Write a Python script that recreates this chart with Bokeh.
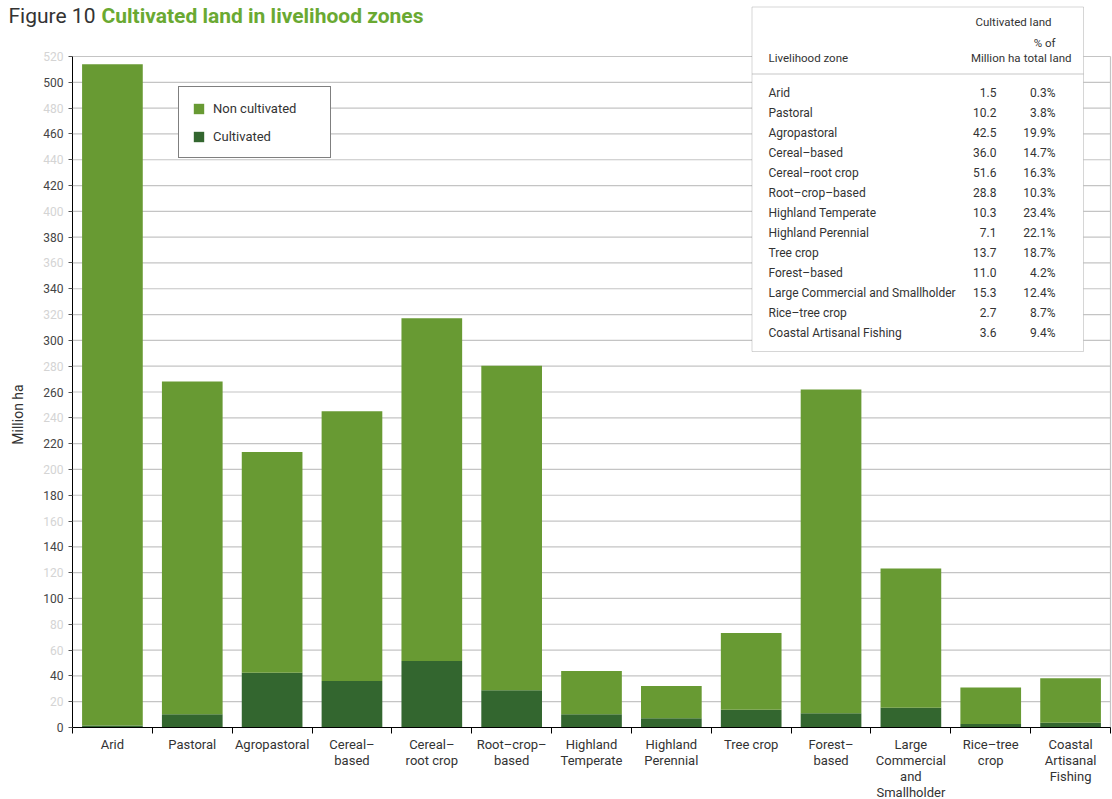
from bokeh.plotting import figure
from bokeh.models import (Range1d, FixedTicker, Label, BoxAnnotation, Legend,
                          LegendItem, ColumnDataSource)
from bokeh.embed import file_html
from bokeh.resources import INLINE

# ---------------- data ----------------
zones = ["Arid", "Pastoral", "Agropastoral", "Cereal–based", "Cereal–root crop",
         "Root–crop–based", "Highland Temperate", "Highland Perennial", "Tree crop",
         "Forest–based", "Large Commercial and Smallholder", "Rice–tree crop",
         "Coastal Artisanal Fishing"]
axis_labels = ["Arid", "Pastoral", "Agropastoral", "Cereal–\nbased", "Cereal–\nroot crop",
               "Root–crop–\nbased", "Highland\nTemperate", "Highland\nPerennial",
               "Tree crop", "Forest–\nbased", "Large\nCommercial\nand\nSmallholder",
               "Rice–tree\ncrop", "Coastal\nArtisanal\nFishing"]
cultivated = [1.5, 10.2, 42.5, 36.0, 51.6, 28.8, 10.3, 7.1, 13.7, 11.0, 15.3, 2.7, 3.6]
non_cultivated = [512.5, 258.0, 171.0, 209.0, 265.5, 251.5, 33.5, 25.0, 59.5, 251.0,
                  108.0, 28.3, 34.5]
cultivated_txt = ["1.5", "10.2", "42.5", "36.0", "51.6", "28.8", "10.3", "7.1", "13.7",
                  "11.0", "15.3", "2.7", "3.6"]
pct_total = ["0.3%", "3.8%", "19.9%", "14.7%", "16.3%", "10.3%", "23.4%", "22.1%",
             "18.7%", "4.2%", "12.4%", "8.7%", "9.4%"]
y_ticks = list(range(0, 521, 20))
light_ticks = [20, 60, 80, 120, 160, 200, 240, 280, 320, 360, 400, 440, 480, 520]

# ---------------- layout constants ----------------
W, H = 1112, 799
AX_L, AX_R, AX_B = 72, 1110, 727          # axis positions in px
N = len(zones)
XS = (AX_R - AX_L) / N                     # px per category
YS = 671.0 / 520.0                         # px per million ha

def dx(px):
    return (px - AX_L) / XS

def dy(py):
    return (AX_B - py) / YS

FONT = "Roboto"
GREEN = "#689a33"
DARK = "#33662f"
TXT = "#333333"

p = figure(width=W, height=H, output_backend="svg", toolbar_location=None,
           x_range=Range1d(dx(0), dx(W)), y_range=Range1d(dy(H), dy(0)),
           min_border=0)
p.outline_line_color = None
p.background_fill_color = "white"
p.border_fill_color = "white"
p.xgrid.visible = False
p.ygrid.visible = False

yt = FixedTicker(ticks=y_ticks, minor_ticks=[])

# horizontal grid lines, limited to the chart area
p.segment(x0=[0] * len(y_ticks), y0=y_ticks, x1=[N] * len(y_ticks), y1=y_ticks,
          line_color="#c4c4c4", line_width=1.2)
# right border line of the chart area
p.segment(x0=[N], y0=[0], x1=[N], y1=[y_ticks[-1]], line_color="#c4c4c4", line_width=1.2)

centers = [i + 0.5 for i in range(N)]
src = ColumnDataSource(dict(x=centers, cultivated=cultivated, non_cultivated=non_cultivated))
rs = p.vbar_stack(["cultivated", "non_cultivated"], x="x", width=0.76, source=src,
                  color=[DARK, GREEN], line_color=None)

# ---------------- axes ----------------
xt = FixedTicker(ticks=centers, minor_ticks=list(range(N + 1)))
p.xaxis.fixed_location = 0
p.xaxis.ticker = xt
p.xaxis.bounds = (0, N)
p.xaxis.major_label_overrides = {c: lab for c, lab in zip(centers, axis_labels)}
p.xaxis.major_tick_line_color = None
p.xaxis.major_tick_out = 0
p.xaxis.major_tick_in = 0
p.xaxis.minor_tick_out = 6
p.xaxis.minor_tick_in = 0
p.xaxis.minor_tick_line_color = "black"
p.xaxis.axis_line_color = "black"
p.xaxis.major_label_standoff = 3
p.xaxis.major_label_text_font = FONT
p.xaxis.major_label_text_font_size = "13px"
p.xaxis.major_label_text_line_height = 1.08
p.xaxis.major_label_text_color = TXT

p.yaxis.fixed_location = 0
p.yaxis.ticker = yt
p.yaxis.bounds = (0, y_ticks[-1])
p.yaxis.major_label_overrides = {v: "" for v in light_ticks}
p.yaxis.major_tick_out = 4
p.yaxis.major_tick_in = 0
p.yaxis.major_tick_line_color = "#555555"
p.yaxis.minor_tick_line_color = None
p.yaxis.axis_line_color = "black"
p.yaxis.major_label_standoff = 5
p.yaxis.major_label_text_font = FONT
p.yaxis.major_label_text_font_size = "12px"
p.yaxis.major_label_text_color = "#444444"

for v in light_ticks:
    p.add_layout(Label(x=dx(63), y=v, text=str(v), text_align="right",
                       text_baseline="middle", text_font=FONT, text_font_size="12px",
                       text_color="#d4d4d4"))

p.add_layout(Label(x=dx(17.5), y=dy(414), text="Million ha", angle=90, angle_units="deg",
                   text_align="center", text_baseline="middle", text_font=FONT,
                   text_font_size="14px", text_color=TXT))

# ---------------- title ----------------
p.add_layout(Label(x=dx(8), y=dy(15.5), text="Figure 10", text_align="left",
                   text_baseline="alphabetic", text_font=FONT, text_font_size="21px",
                   text_color=TXT))
p.add_layout(Label(x=dx(101), y=dy(15.5), text="Cultivated land in livelihood zones",
                   text_align="left", text_baseline="alphabetic", text_font=FONT,
                   text_font_size="21px", text_font_style="bold", text_color="#6aa932"))

# ---------------- legend ----------------
legend = Legend(items=[LegendItem(label="Non cultivated", renderers=[rs[1]]),
                       LegendItem(label="Cultivated", renderers=[rs[0]])],
                location=(178, H - 158), orientation="vertical",
                border_line_color="black", border_line_width=1,
                background_fill_color="white", background_fill_alpha=1,
                padding=13, spacing=12, glyph_height=13, glyph_width=13,
                label_standoff=8, label_height=16, label_width=104, margin=0,
                label_text_font=FONT, label_text_font_size="13px",
                label_text_color=TXT)
p.add_layout(legend)

# ---------------- table ----------------
p.add_layout(BoxAnnotation(left=dx(751.5), right=dx(1083), top=dy(6.5), bottom=dy(351),
                           fill_color="white", fill_alpha=1, line_color="#777777",
                           line_width=1))
p.add_layout(BoxAnnotation(left=dx(751.5), right=dx(1083), top=dy(73.5), bottom=dy(73.5),
                           fill_alpha=0, line_color="#999999", line_width=1))

def tlabel(px, py, text, align="left", size="12px"):
    p.add_layout(Label(x=dx(px), y=dy(py), text=text, text_align=align,
                       text_baseline="middle", text_font=FONT, text_font_size=size,
                       text_color=TXT))

tlabel(1013, 21, "Cultivated land", "center", "11.5px")
tlabel(1055, 42, "% of", "right", "11.5px")
tlabel(768, 57, "Livelihood zone", "left", "11.5px")
tlabel(1020, 57, "Million ha", "right", "11.5px")
tlabel(1071, 57, "total land", "right", "11.5px")
for i, z in enumerate(zones):
    yy = 92 + 20 * i
    tlabel(768, yy, z)
    tlabel(996, yy, cultivated_txt[i], "right")
    tlabel(1055, yy, pct_total[i], "right")

open("out.html", "w").write(file_html(p, INLINE))
